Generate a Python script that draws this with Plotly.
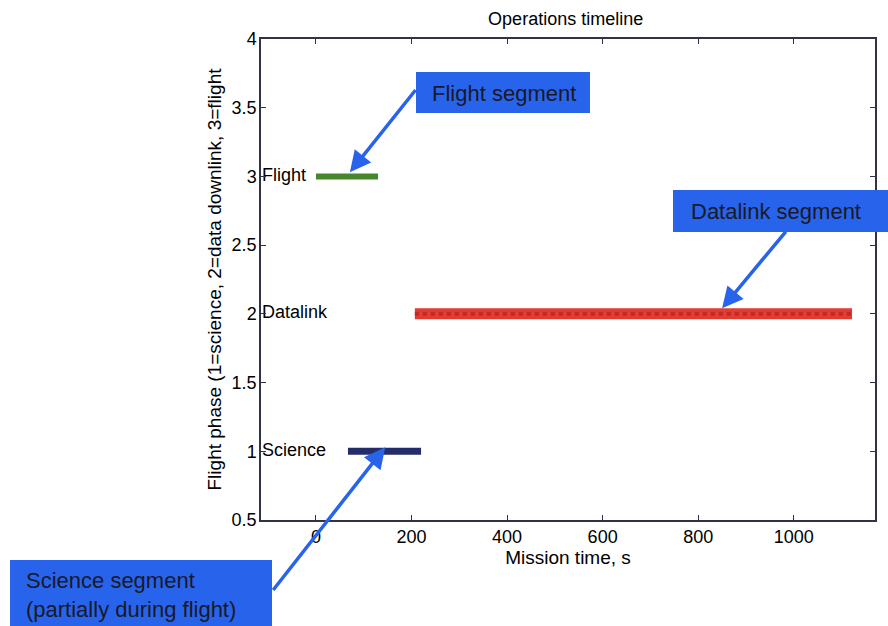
import plotly.graph_objects as go

# ---- data ----
phase_names = ["Science", "Datalink", "Flight"]
phase_levels = [1, 2, 3]
seg_start = [67, 207, 0]       # mission time, s
seg_end = [220, 1122, 130]
seg_colors = ["rgb(35,45,105)", "rgb(225,60,50)", "rgb(70,135,45)"]
seg_widths = [7, 11, 6]

x_ticks = [0, 200, 400, 600, 800, 1000]
y_ticks = [0.5, 1, 1.5, 2, 2.5, 3, 3.5, 4]
label_x = -113

FONT = "Liberation Sans, Arial, Helvetica, sans-serif"
BLUE = "rgb(40,100,235)"
TXT = "rgb(25,25,40)"

# plot area in pixels (for placing the callout boxes in paper coordinates)
L, R, T, B = 261, 875, 39, 520
def px(x):
    return (x - L) / (R - L)
def py(y):
    return (B - y) / (B - T)

fig = go.Figure()
for name, lvl, s, e, c, w in zip(phase_names, phase_levels, seg_start, seg_end, seg_colors, seg_widths):
    fig.add_trace(go.Scatter(x=[s, e], y=[lvl, lvl], mode="lines",
                             line=dict(color=c, width=w), showlegend=False, hoverinfo="skip"))
    if name == "Datalink":
        fig.add_trace(go.Scatter(x=[s, e], y=[lvl, lvl], mode="lines",
                                 line=dict(color="rgb(195,40,40)", width=4, dash="dot"),
                                 showlegend=False, hoverinfo="skip"))

fig.add_trace(go.Scatter(x=[label_x] * 3, y=phase_levels, mode="text", text=phase_names,
                         textposition="middle right", textfont=dict(family=FONT, size=18, color="black"),
                         showlegend=False, hoverinfo="skip", cliponaxis=False))

# callout boxes (pixel rectangles -> paper coords)
boxes = [
    dict(lines=["Flight segment"], x0=416, x1=590, y0=72, y1=113, tx=504, ty=93, align="center"),
    dict(lines=["Datalink segment"], x0=673, x1=892, y0=190, y1=232, tx=776, ty=212, align="center"),
    dict(lines=["Science segment", "(partially during flight)"], x0=10, x1=272, y0=560, y1=630,
         tx=24, ty=595, align="left"),
]
for b in boxes:
    fig.add_shape(type="rect", xref="paper", yref="paper", x0=px(b["x0"]), x1=px(b["x1"]),
                  y0=py(b["y1"]), y1=py(b["y0"]), fillcolor=BLUE, line=dict(width=0), layer="above")
    fig.add_annotation(text="<br>".join(b["lines"]), xref="paper", yref="paper", x=px(b["tx"]), y=py(b["ty"]),
                       xanchor="center" if b["align"] == "center" else "left", yanchor="middle",
                       showarrow=False, align=b["align"],
                       font=dict(family=FONT, size=22, color=TXT))

# arrows (head, tail in data coordinates)
arrows = [((71, 3.03), (211, 3.64)), ((850, 2.04), (986, 2.61)), ((145, 1.03), (-92, -0.02))]
for (hx, hy), (tx, ty) in arrows:
    fig.add_annotation(x=hx, y=hy, ax=tx, ay=ty, xref="x", yref="y", axref="x", ayref="y",
                       text="", showarrow=True, arrowhead=2, arrowsize=1.2, arrowwidth=3.5,
                       arrowcolor=BLUE)

axis_common = dict(showline=True, linecolor="rgb(50,50,70)", linewidth=1.5, mirror="ticks",
                   ticks="inside", ticklen=5, tickcolor="rgb(50,50,70)", showgrid=False,
                   zeroline=False, tickfont=dict(family=FONT, size=18, color="black"))

fig.update_xaxes(range=[-115, 1170], tickvals=x_ticks,
                 title=dict(text="Mission time, s", font=dict(family=FONT, size=19, color="black"), standoff=4),
                 **axis_common)
fig.update_yaxes(range=[0.5, 4], tickvals=y_ticks, ticktext=[f"{v:g}" for v in y_ticks],
                 ticklabelstandoff=-1,
                 title=dict(text="Flight phase (1=science, 2=data downlink, 3=flight",
                            font=dict(family=FONT, size=19, color="black"), standoff=5),
                 **axis_common)

fig.update_layout(
    width=888, height=626,
    margin=dict(l=261, r=13, t=39, b=106),
    paper_bgcolor="white", plot_bgcolor="white",
    title=dict(text="Operations timeline", x=0.637, xanchor="center", y=0.98, yanchor="top",
               font=dict(family=FONT, size=18, color="black")),
)

fig.write_html("out.html")
